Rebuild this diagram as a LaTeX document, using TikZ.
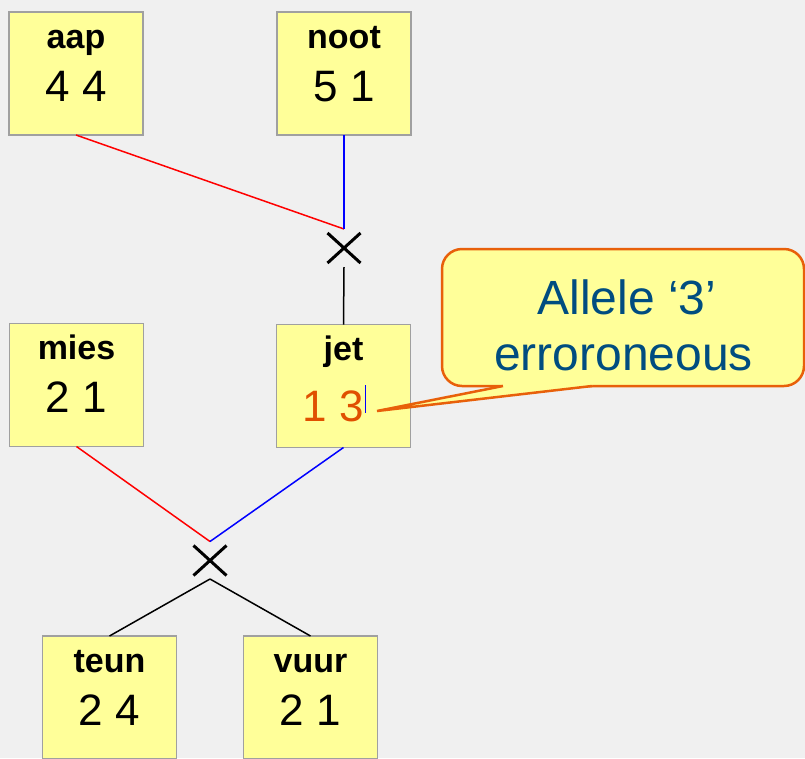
\documentclass[tikz,border=0pt]{standalone}
\usepackage{fontspec}
\setmainfont{Liberation Sans}
\usetikzlibrary{shapes.misc}
\definecolor{bgcol}{HTML}{F0F0F0}
\definecolor{boxyellow}{HTML}{FFFF99}
\definecolor{boxgray}{HTML}{A0A0A0}
\definecolor{callorange}{HTML}{E8600A}
\definecolor{errorange}{HTML}{E05000}
\definecolor{textblue}{HTML}{004D80}
\begin{document}
\begin{tikzpicture}[x=1pt,y=-1pt,
  box/.style={draw=boxgray, line width=1.5pt, fill=boxyellow, minimum width=134pt, minimum height=123pt, inner sep=0pt, outer sep=0pt},
  pname/.style={font=\fontsize{34}{40}\selectfont\bfseries, anchor=base, inner sep=0pt},
  geno/.style={font=\fontsize{44}{50}\selectfont, anchor=base, inner sep=0pt},
  crossmark/.style={draw, cross out, line width=3pt, minimum width=30pt, minimum height=27pt, inner sep=0pt},
  link/.style={line width=1.5pt},
  callout/.style={draw=callorange, line width=2.5pt, fill=boxyellow, rounded corners=20pt, minimum width=362pt, minimum height=137pt, inner sep=0pt},
  calltext/.style={font=\fontsize{48}{56}\selectfont, text=textblue, anchor=base, inner sep=0pt}]
\fill[bgcol] (0,0) rectangle (805,758);
\useasboundingbox (0,0) rectangle (805,758);

% boxes
\node[box] (aap) at (76,73.5) {};
\node[box] (noot) at (344,73.5) {};
\node[box] (mies) at (76.5,385) {};
\node[box] (jet) at (343.5,386) {};
\node[box] (teun) at (109.5,697.5) {};
\node[box] (vuur) at (310.5,697.5) {};

\node[pname] (aapn) at (76,48) {aap};
\node[geno] (aapg) at (76,101) {4 4};
\node[pname] (nootn) at (344,48) {noot};
\node[geno] (nootg) at (344,101) {5 1};
\node[pname] (miesn) at (76.5,359) {mies};
\node[geno] (miesg) at (76.5,412) {2 1};
\node[pname] (jetn) at (343.5,360) {jet};
\node[geno, text=errorange] (jetg) at (333.5,421.7) {1 3};
\node[pname] (teunn) at (109.5,672.7) {teun};
\node[geno] (teung) at (109.5,725) {2 4};
\node[pname] (vuurn) at (310.5,672.7) {vuur};
\node[geno] (vuurg) at (310.5,725) {2 1};

% cursor mark
\coordinate (cur1) at (365.7,385);
\coordinate (cur2) at (365.7,413);
\draw[blue, line width=0.8pt] (cur1) -- (cur2);

% upper cross
\coordinate (m1) at (344,229);
\draw[link, red] (aap.south) -- (m1);
\draw[link, blue] (noot.south) -- (m1);
\node[crossmark] (x1) at (344,248) {};
\coordinate (x1b) at (344,267);
\draw[link] (x1b) -- (jet.north);

% lower cross
\coordinate (m2) at (210,541.5);
\draw[link, red] (mies.south) -- (m2);
\draw[link, blue] (jet.south) -- (m2);
\node[crossmark] (x2) at (210,560.5) {};
\coordinate (x2b) at (210,579);
\draw[link] (x2b) -- (teun.north);
\draw[link] (x2b) -- (vuur.north);

% callout
\node[callout] (call) at (623,317.5) {};
\coordinate (p1) at (503,386);
\coordinate (p2) at (592,386);
\coordinate (tip) at (377,411);
\fill[boxyellow] (503,383) -- (p1) -- (tip) -- (p2) -- (592,383) -- cycle;
\draw[callorange, line width=2.5pt, line join=miter] (p1) -- (tip) -- (p2);
\node[calltext] (c1) at (627,314) {Allele ‘3’};
\node[calltext] (c2) at (623.5,370) {erroroneous};
\end{tikzpicture}
\end{document}
